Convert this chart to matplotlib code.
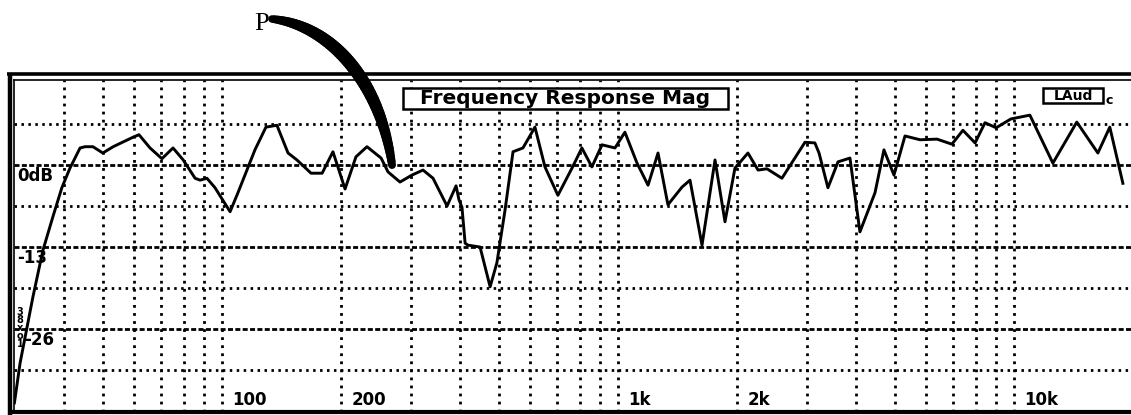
import numpy as np
import matplotlib
matplotlib.use("Agg")
import matplotlib.pyplot as plt
from matplotlib.collections import LineCollection
from matplotlib.patches import Rectangle
from matplotlib.lines import Line2D
from matplotlib.ticker import NullLocator

plt.rcParams['lines.scale_dashes'] = False

# ---- data ----
freq_hz = [29.9, 30.9, 33.3, 35.3, 37.4, 39.4, 41.3, 43.8, 45.1, 47.2, 50.0, 53.1, 56.9, 59.6,
           61.7, 65.8, 70.5, 75.2, 79.8, 85.5, 88.0, 91.6, 96.0, 104.8, 109.7, 121.1, 129.1,
           137.6, 146.8, 154.6, 167.8, 179.0, 190.6, 204.5, 217.9, 232.3, 252.2, 262.6, 281.5,
           301.7, 321.8, 341.1, 370.1, 390.0, 396.6, 403.6, 411.1, 417.9, 448.4, 475.4, 494.5,
           518.6, 543.1, 575.4, 617.0, 654.0, 705.1, 765.2, 810.6, 859.1, 911.4, 982.7, 1041,
           1117, 1191, 1262, 1337, 1451, 1520, 1630, 1758, 1863, 1974, 2129, 2258, 2378, 2594,
           2966, 3142, 3219, 3390, 3595, 3853, 4083, 4457, 4695, 4977, 5306, 5794, 6393, 6970,
           7432, 7976, 8450, 9016, 9825, 10970, 12540, 14410, 16290, 17460, 18840]
level_db = [-37.7, -31.4, -20.9, -13.5, -8.2, -3.6, -0.5, 2.7, 2.9, 2.9, 1.9, 2.9, 3.8, 4.4,
            4.8, 2.7, 1.0, 2.7, 0.8, -2.1, -2.4, -2.1, -3.6, -7.4, -4.4, 2.4, 6.0,
            6.3, 1.9, 0.8, -1.3, -1.3, 2.1, -3.8, 1.3, 2.9, 1.1, -1.1, -2.7,
            -1.6, -0.8, -2.1, -6.5, -3.3, -5.5, -6.7, -12.4, -12.7, -13.0, -19.3, -15.5,
            -7.1, 2.1, 2.7, 6.0, -0.3, -4.8, -0.5, 2.7, -0.3, 3.2, 2.7, 5.2,
            0.3, -3.2, 1.9, -6.3, -3.5, -2.4, -12.7, 0.8, -9.0, -0.5, 1.9, -0.8, -0.6, -2.1,
            3.6, 3.5, 1.9, -3.6, 0.5, 1.1, -10.6, -4.4, 2.4, -1.6, 4.6, 4.0, 4.1, 3.3,
            5.5, 3.5, 6.7, 5.9, 7.3, 7.9, 0.3, 6.8, 1.9, 6.0, -2.9]

grid_freqs = [40, 50, 60, 70, 80, 90, 100, 200, 300, 400, 500, 600, 700, 800, 900,
              1000, 2000, 3000, 4000, 5000, 6000, 7000, 8000, 9000, 10000]
major_levels = [0, -13, -26]
minor_levels = [6.5, -6.5, -19.5, -32.5]
y_label_text = ['0dB', '-13', '-26']
x_label_freqs = [100, 200, 1000, 2000, 10000]
x_label_text = ['100', '200', '1k', '2k', '10k']
title_text = 'Frequency Response Mag'
badge_text = 'LAud'

# ---- figure ----
W, H = 1131, 415
fig = plt.figure(figsize=(W / 100, H / 100), dpi=100)
fig.patch.set_facecolor('white')


def fx(px):
    return px / W


def fy(py):
    return 1 - py / H


ax = fig.add_axes([fx(14), fy(412), 1 - fx(14), (412 - 80) / H])
ax.set_xscale('log')
ax.set_xlim(29.83, 19750)
ax.set_ylim(-39.14, 13.47)
for axis in (ax.xaxis, ax.yaxis):
    axis.set_major_locator(NullLocator())
    axis.set_minor_locator(NullLocator())
ax.spines['right'].set_visible(False)
ax.spines['left'].set_linewidth(1.2)
ax.spines['top'].set_linewidth(1.2)
ax.spines['bottom'].set_linewidth(3.0)

# grid
for f in grid_freqs:
    ax.axvline(f, color='k', lw=2.0, ls=(0, (2.0, 3.8)), zorder=1)
for lv in minor_levels:
    ax.axhline(lv, color='k', lw=2.0, ls=(0, (1.8, 3.2)), zorder=1)
for lv in major_levels:
    ax.axhline(lv, color='k', lw=2.0, ls=(0, (3.6, 1.7)), zorder=1)

# curve
ax.plot(freq_hz, level_db, color='k', lw=2.1, zorder=3)

# labels
y_offsets = [3, 3, 10]
for lv, t, dx in zip(major_levels, y_label_text, y_offsets):
    ax.annotate(t, xy=(0, lv), xycoords=ax.get_yaxis_transform(), xytext=(dx, -2),
                textcoords='offset pixels', ha='left', va='top', fontsize=12,
                fontweight='bold', family='DejaVu Sans', zorder=4)
for f, t in zip(x_label_freqs, x_label_text):
    ax.annotate(t, xy=(f, 0), xycoords=ax.get_xaxis_transform(), xytext=(10, 12),
                textcoords='offset pixels', ha='left', va='center', fontsize=12,
                fontweight='bold', family='DejaVu Sans', zorder=4)

fig.text(fx(20), fy(328), '3\n8\nx\no\n1', ha='center', va='center', fontsize=7,
         fontweight='bold', linespacing=0.78, family='DejaVu Sans')

# outer frame
fig.add_artist(Line2D([fx(7), 1], [fy(74.5), fy(74.5)], lw=2.6, color='k',
                      solid_capstyle='butt'))
fig.add_artist(Line2D([fx(9.5), fx(9.5)], [fy(73), 0], lw=3.2, color='k',
                      solid_capstyle='butt'))

# title box
fig.add_artist(Rectangle((fx(403), fy(109)), fx(728) - fx(403), (109 - 88) / H,
                         transform=fig.transFigure, facecolor='white', edgecolor='k',
                         lw=1.8, zorder=5))
fig.text(fx(565.5), fy(99), title_text, ha='center', va='center', fontsize=14.5,
         fontweight='bold', family='DejaVu Sans', zorder=6)

# badge
fig.add_artist(Rectangle((fx(1043), fy(103)), fx(1103) - fx(1043), (103 - 88) / H,
                         transform=fig.transFigure, facecolor='white', edgecolor='k',
                         lw=1.8, zorder=5))
fig.text(fx(1073), fy(95.5), badge_text, ha='center', va='center', fontsize=10,
         fontweight='bold', family='DejaVu Sans', zorder=6)
fig.text(fx(1105), fy(101), 'c', ha='left', va='center', fontsize=9,
         fontweight='bold', family='DejaVu Sans', zorder=6)

# annotation P with thick curved stroke
fig.text(fx(254), fy(30), 'P', ha='left', va='baseline', fontsize=19,
         family='Liberation Serif', zorder=6)
P0 = np.array([272, 19.0]); P1 = np.array([330, 25.0])
P2 = np.array([380, 80.0]); P3 = np.array([392, 165.0])
t = np.linspace(0, 1, 60)[:, None]
pts = (1 - t) ** 3 * P0 + 3 * (1 - t) ** 2 * t * P1 + 3 * (1 - t) * t ** 2 * P2 + t ** 3 * P3
pts_fig = np.column_stack([fx(pts[:, 0]), fy(pts[:, 1])])
segs = np.stack([pts_fig[:-1], pts_fig[1:]], axis=1)
tm = t[:-1, 0]
widths_px = 6 + 7 * np.sin(np.pi * np.clip(tm * 0.9 + 0.05, 0, 1)) ** 0.8
lc = LineCollection(segs, linewidths=widths_px * 0.72, colors='k', capstyle='round',
                    transform=fig.transFigure, zorder=7)
fig.add_artist(lc)

fig.savefig('out.png', dpi=100)
